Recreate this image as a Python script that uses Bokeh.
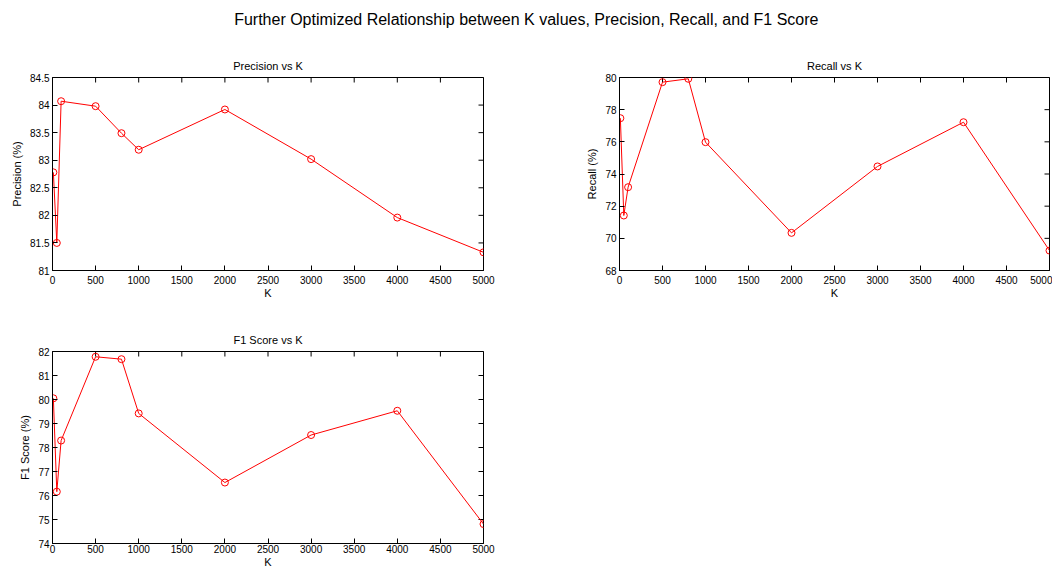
import math
from bokeh.plotting import figure
from bokeh.layouts import column, row
from bokeh.models import Range1d, FixedTicker, NumeralTickFormatter, Label
from bokeh.embed import file_html
from bokeh.resources import INLINE

# ---- data ----
k_values = [10, 50, 100, 500, 800, 1000, 2000, 3000, 4000, 5000]
precision = [82.78, 81.50, 84.07, 83.98, 83.49, 83.19, 83.92, 83.02, 81.96, 81.33]
recall = [77.47, 71.42, 73.18, 79.71, 79.92, 75.98, 70.34, 74.47, 77.22, 69.24]
f1_score = [80.05, 76.16, 78.29, 81.78, 81.68, 79.42, 76.54, 78.52, 79.53, 74.81]

x_ticks = [0, 500, 1000, 1500, 2000, 2500, 3000, 3500, 4000, 4500, 5000]
precision_ticks = [81, 81.5, 82, 82.5, 83, 83.5, 84, 84.5]
recall_ticks = [68, 70, 72, 74, 76, 78, 80]
f1_ticks = [74, 75, 76, 77, 78, 79, 80, 81, 82]

suptitle = "Further Optimized Relationship between K values, Precision, Recall, and F1 Score"

FONT = "Liberation Sans"
AX = "#000000"
RED = "#ff0000"


def style_axis(ax, ticks, standoff, label_standoff):
    ax.ticker = FixedTicker(ticks=ticks)
    ax.axis_line_color = AX
    ax.major_tick_line_color = AX
    ax.major_tick_in = 5
    ax.major_tick_out = 0
    ax.minor_tick_line_color = None
    ax.minor_tick_in = 0
    ax.minor_tick_out = 0
    ax.major_label_text_font = FONT
    ax.major_label_text_color = "#000000"
    ax.major_label_text_font_size = "10px"
    ax.major_label_standoff = standoff
    ax.formatter = NumeralTickFormatter(format="0.[0]")
    ax.axis_label_text_font = FONT
    ax.axis_label_text_font_style = "normal"
    ax.axis_label_text_font_size = "11px"
    ax.axis_label_text_color = "#000000"
    ax.axis_label_standoff = label_standoff


def make_fig(title, ylabel, xlabel, yvals, yrange, yticks, width, height,
             left, right, top, bottom, xstand):
    p = figure(width=width, height=height,
               x_range=Range1d(0, 5000), y_range=Range1d(*yrange),
               output_backend="svg", toolbar_location=None,
               min_border_left=left, min_border_right=right,
               min_border_top=top, min_border_bottom=bottom,
               background_fill_color="white", border_fill_color="white")
    p.title.text = title
    p.title.text_font = FONT
    p.title.text_font_style = "normal"
    p.title.text_font_size = "11px"
    p.title.align = "center"
    p.title.text_color = "#000000"
    p.title.standoff = 12
    p.outline_line_color = AX
    p.outline_line_width = 1
    p.outline_line_alpha = 1
    p.xgrid.visible = False
    p.ygrid.visible = False
    style_axis(p.xaxis[0], x_ticks, xstand, 0)
    style_axis(p.yaxis[0], yticks, 3, 4)
    p.xaxis[0].axis_label = xlabel
    p.yaxis[0].axis_label = ylabel
    # inward ticks on the top and right edges of the box (clipped to the frame)
    p.scatter(x_ticks, [yrange[1]] * len(x_ticks), marker="dash", angle=math.pi / 2,
              size=10, line_color=AX, line_width=1)
    p.scatter([5000] * len(yticks), yticks, marker="dash",
              size=10, line_color=AX, line_width=1)
    p.line(k_values, yvals, line_color=RED, line_width=1)
    p.scatter(k_values, yvals, marker="circle", size=7, fill_color=None,
              line_color=RED, line_width=1)
    return p


# header with the overall title
head = figure(width=1052, height=40, x_range=Range1d(0, 1052), y_range=Range1d(0, 40),
              x_axis_location=None, y_axis_location=None,
              output_backend="svg", toolbar_location=None, min_border=0,
              outline_line_color=None)
head.grid.visible = False
head.add_layout(Label(x=540, y=21, text=suptitle, text_align="center",
                      text_baseline="middle", text_font=FONT,
                      text_font_size="16px", text_color="#000000"))

p1 = make_fig("Precision vs K", "Precision (%)", "K", precision, (81, 84.5),
              precision_ticks, 560, 270, 52, 77, 37, 40, 5)
p2 = make_fig("Recall vs K", "Recall (%)", "K", recall, (68, 80),
              recall_ticks, 492, 270, 59, 3, 37, 40, 5)
p3 = make_fig("F1 Score vs K", "F1 Score (%)", "K", f1_score, (74, 82),
              f1_ticks, 560, 260, 52, 77, 41, 26, 1)

layout = column(head, row(p1, p2, spacing=0), p3, spacing=0)

open("out.html", "w").write(file_html(layout, INLINE))
